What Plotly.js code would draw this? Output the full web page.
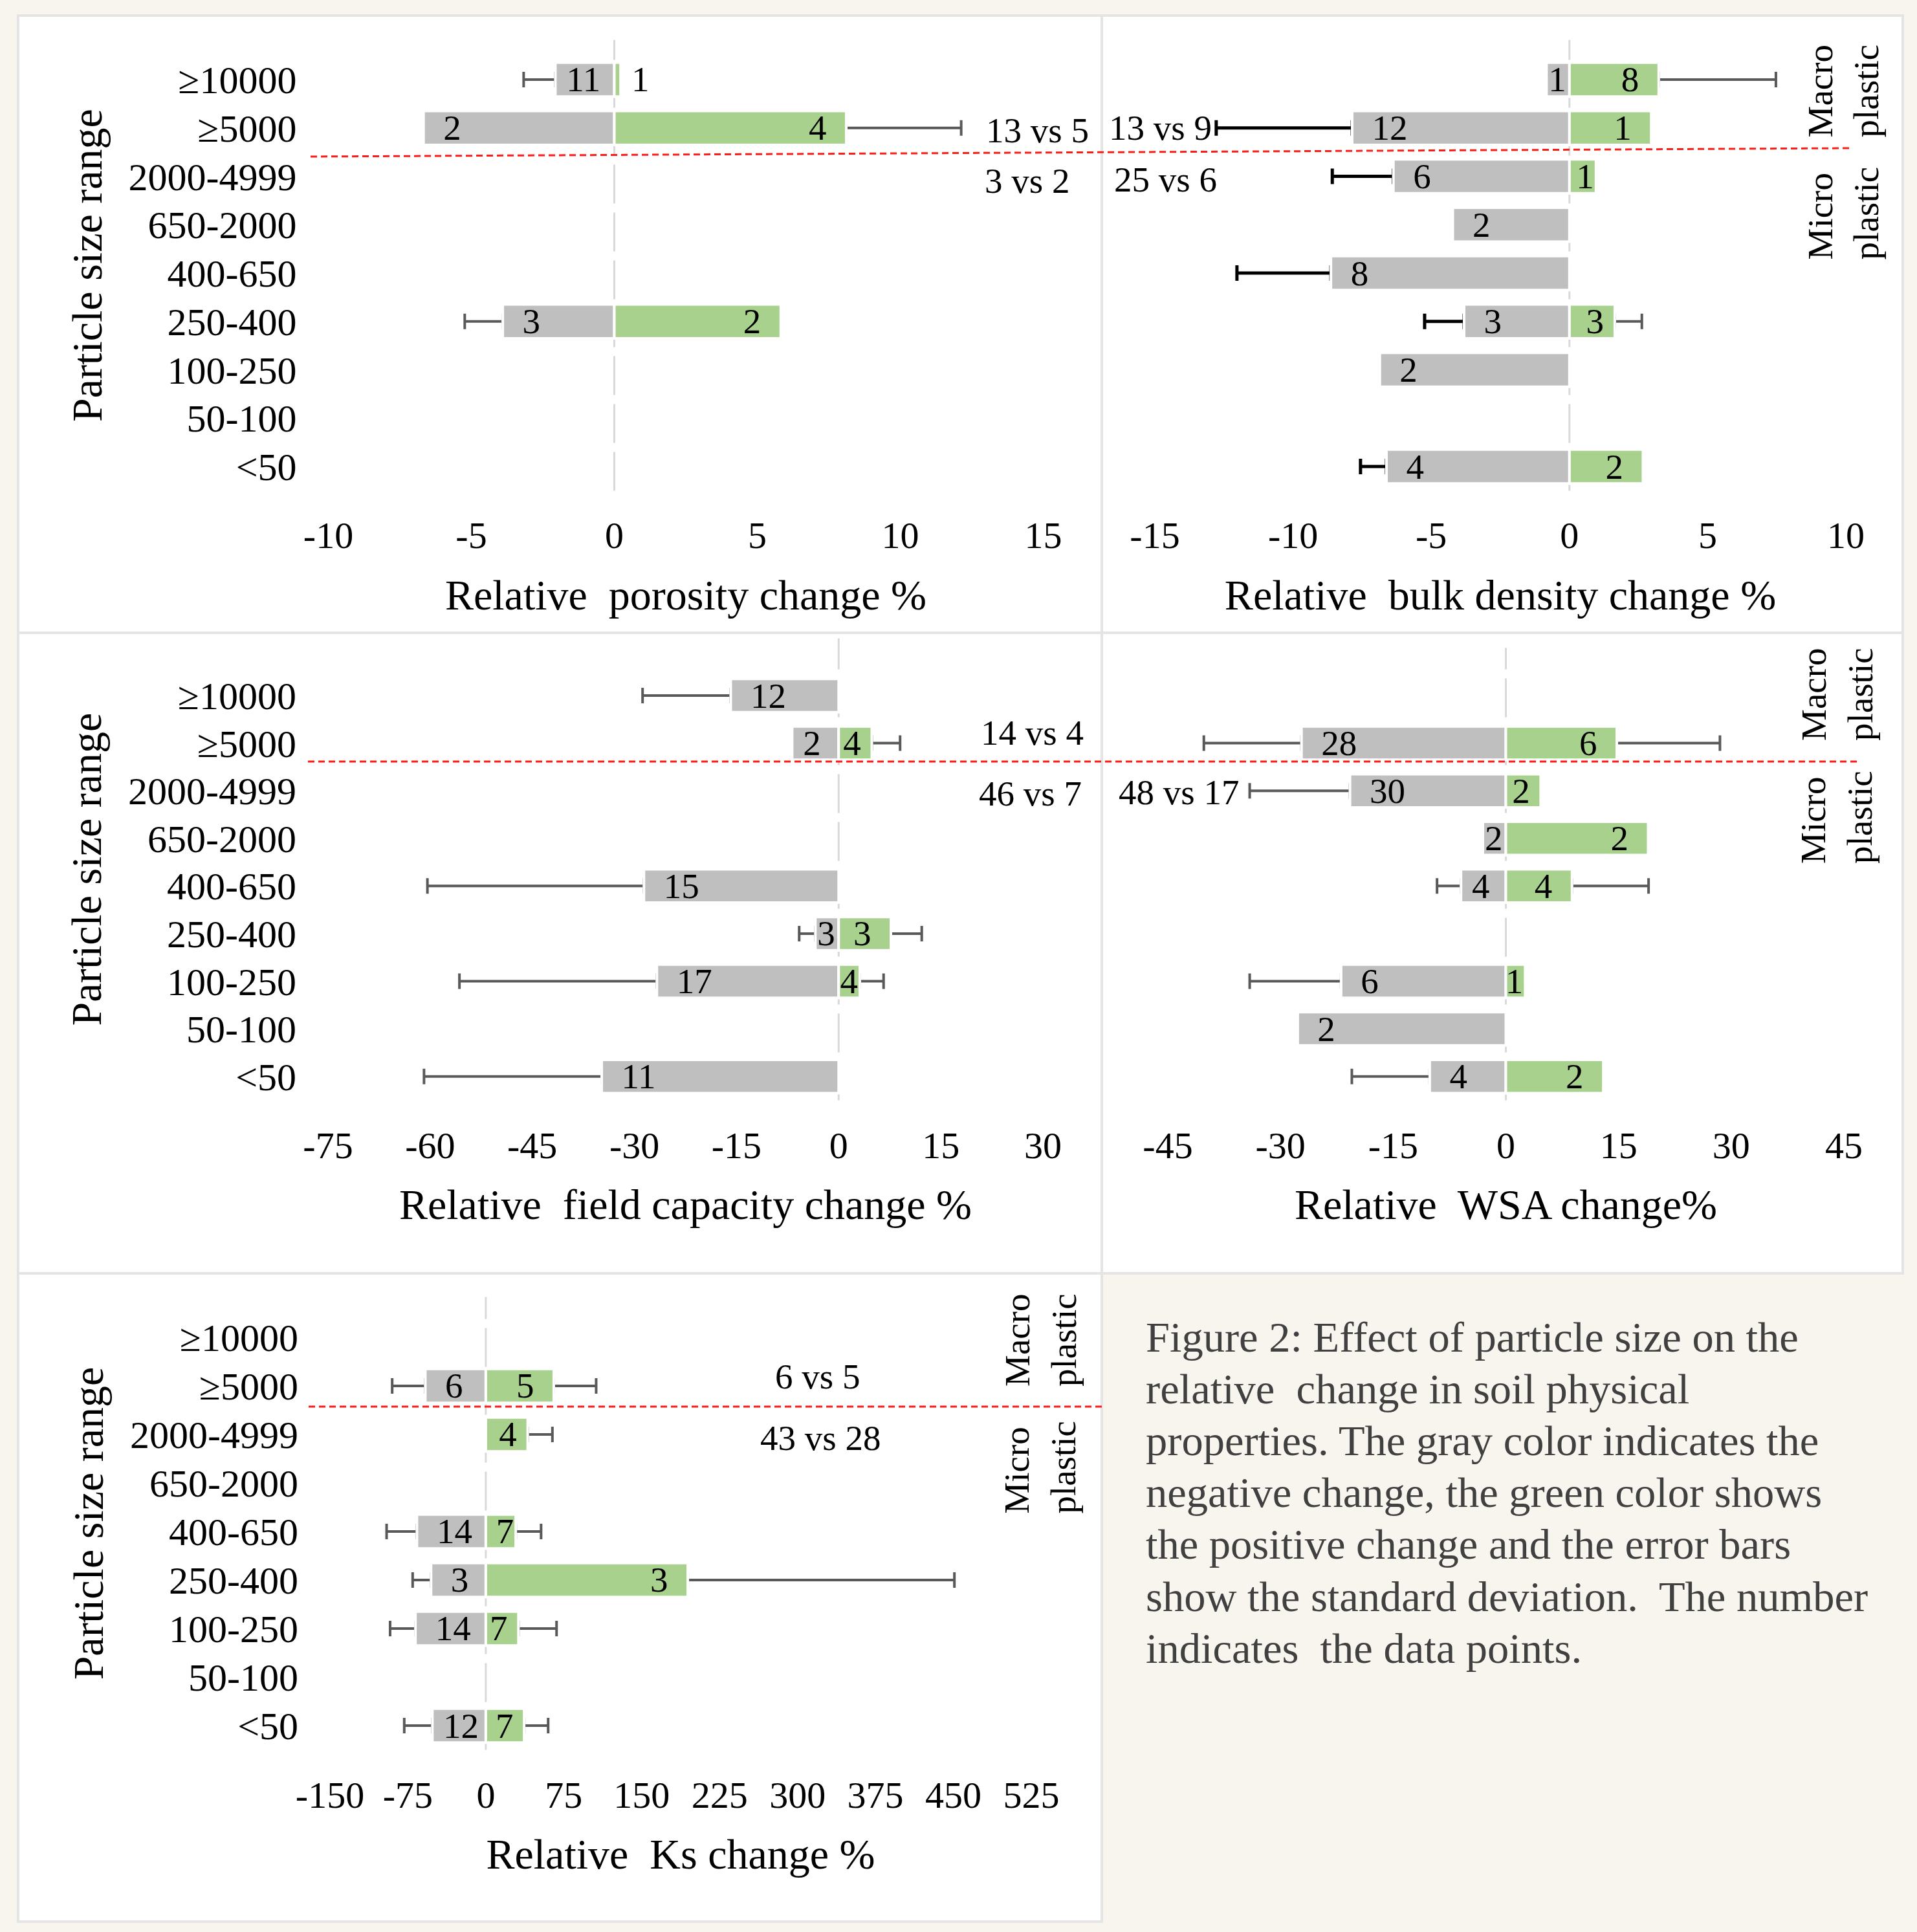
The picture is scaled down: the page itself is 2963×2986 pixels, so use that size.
<!DOCTYPE html>
<html>
<head>
<meta charset="utf-8">
<script src="https://cdn.plot.ly/plotly-3.0.1.min.js"></script>
<style>
html,body{margin:0;padding:0;background:#F8F5EE;}
#chart{width:2963px;height:2986px;}
</style>
</head>
<body>
<div id="chart"></div>
<script>
// ---------------- DATA ----------------
const sizeRanges = ['≥10000', '≥5000', '2000-4999', '650-2000', '400-650', '250-400', '100-250', '50-100', '<50'];

// Relative porosity change %
const porosityNeg   = [-2.06, -6.67, null, null, null, -3.90, null, null, null];
const porosityNegN  = [11, 2, null, null, null, 3, null, null, null];
const porosityNegSD = [1.11, null, null, null, null, 1.33, null, null, null];
const porosityPos   = [0.22, 8.11, null, null, null, 5.82, null, null, null];
const porosityPosN  = [1, 4, null, null, null, 2, null, null, null];
const porosityPosSD = [null, 4.02, null, null, null, null, null, null, null];
const porosityTicks = [-10, -5, 0, 5, 10, 15];

// Relative bulk density change %
const bulkNeg   = [-0.83, -7.86, -6.37, -4.22, -8.63, -3.81, -6.86, null, -6.62];
const bulkNegN  = [1, 12, 6, 2, 8, 3, 2, null, 4];
const bulkNegSD = [null, 4.92, 2.21, null, 3.40, 1.43, null, null, 0.94];
const bulkPos   = [3.23, 2.96, 0.96, null, null, 1.64, null, null, 2.66];
const bulkPosN  = [8, 1, 1, null, null, 3, null, null, 2];
const bulkPosSD = [4.24, null, null, null, null, 0.98, null, null, null];
const bulkTicks = [-15, -10, -5, 0, 5, 10];

// Relative field capacity change %
const fcNeg   = [-15.85, -6.83, null, null, -28.6, -3.42, -26.7, null, -34.8];
const fcNegN  = [12, 2, null, null, 15, 3, 17, null, 11];
const fcNegSD = [12.95, null, null, null, 31.8, 2.38, 29.0, null, 26.1];
const fcPos   = [null, 4.87, null, null, null, 7.67, 3.1, null, null];
const fcPosN  = [null, 4, null, null, null, 3, 4, null, null];
const fcPosSD = [null, 4.15, null, null, null, 4.53, 3.5, null, null];
const fcTicks = [-75, -60, -45, -30, -15, 0, 15, 30];

// Relative WSA change %
const wsaNeg   = [null, -27.2, -20.75, -3.06, -5.97, null, -21.93, -27.7, -10.13];
const wsaNegN  = [null, 28, 30, 2, 4, null, 6, 2, 4];
const wsaNegSD = [null, 13.0, 13.35, null, 3.19, null, 12.17, null, 10.37];
const wsaPos   = [null, 14.77, 4.64, 18.94, 8.81, null, 2.57, null, 12.97];
const wsaPosN  = [null, 6, 2, 2, 4, null, 1, null, 2];
const wsaPosSD = [null, 13.73, null, null, 10.19, null, null, null, null];
const wsaTicks = [-45, -30, -15, 0, 15, 30, 45];

// Relative Ks change %
const ksNeg   = [null, -58.2, null, null, -66.3, -52.7, -67.7, null, -51.4];
const ksNegN  = [null, 6, null, null, 14, 3, 14, null, 12];
const ksNegSD = [null, 31.9, null, null, 29.2, 17.7, 24.4, null, 27.1];
const ksPos   = [null, 65.4, 40.3, null, 28.8, 194.4, 31.4, null, 36.9];
const ksPosN  = [null, 5, 4, null, 7, 3, 7, null, 7];
const ksPosSD = [null, 40.8, 23.8, null, 24.4, 256.6, 36.7, null, 23.1];
const ksTicks = [-150, -75, 0, 75, 150, 225, 300, 375, 450, 525];

// comparison texts (macro row, micro row)
const porosityVs = ['13 vs 5', '3 vs 2'];
const bulkVs = ['13 vs 9', '25 vs 6'];
const fcVs = ['14 vs 4', '46 vs 7'];
const wsaVs = ['48 vs 17'];
const ksVs = ['6 vs 5', '43 vs 28'];

const axisTitles = ['Relative\u00a0 porosity change %', 'Relative\u00a0 bulk density change %',
  'Relative\u00a0 field capacity change %', 'Relative\u00a0 WSA change%', 'Relative\u00a0 Ks change %'];
const yTitle = 'Particle size range';

const captionLines = [
  'Figure 2: Effect of particle size on the',
  'relative\u00a0 change in soil physical',
  'properties. The gray color indicates the',
  'negative change, the green color shows',
  'the positive change and the error bars',
  'show the standard deviation.\u00a0 The number',
  'indicates\u00a0 the data points.'
];

// ---------------- STYLE / LAYOUT ----------------
const W = 2963, H = 2986;
const FONT = 'Liberation Serif, Times New Roman, serif';
const GRAY = '#BFBFBF', GREEN = '#A9D18E', ERR = '#595959';
const LABEL_SIZE = 55;
const pxX = v => v / W;
const pxY = v => 1 - v / H;

const panels = [
  {k: 1, box: [507.5, 1612.5, 61.7, 758.4], yTop: -0.82, ticks: porosityTicks, title: axisTitles[0], showY: true,
   neg: porosityNeg, negN: porosityNegN, negSD: porosityNegSD, pos: porosityPos, posN: porosityPosN, posSD: porosityPosSD,
   negErr: ERR, negErrW: 4},
  {k: 2, box: [1785, 2853, 61.7, 758.4], yTop: -0.82, ticks: bulkTicks, title: axisTitles[1], showY: false,
   neg: bulkNeg, negN: bulkNegN, negSD: bulkNegSD, pos: bulkPos, posN: bulkPosN, posSD: bulkPosSD,
   negErr: '#000000', negErrW: 5},
  {k: 3, box: [507, 1612, 986.7, 1700.5], yTop: -1.2, ticks: fcTicks, title: axisTitles[2], showY: true,
   neg: fcNeg, negN: fcNegN, negSD: fcNegSD, pos: fcPos, posN: fcPosN, posSD: fcPosSD,
   negErr: ERR, negErrW: 4},
  {k: 4, box: [1805, 2850, 1001.4, 1700.5], yTop: -1.0, ticks: wsaTicks, title: axisTitles[3], showY: false,
   neg: wsaNeg, negN: wsaNegN, negSD: wsaNegSD, pos: wsaPos, posN: wsaPosN, posSD: wsaPosSD,
   negErr: ERR, negErrW: 4},
  {k: 5, box: [510, 1594, 2004.5, 2704.5], yTop: -0.833, ticks: ksTicks, title: axisTitles[4], showY: true,
   neg: ksNeg, negN: ksNegN, negSD: ksNegSD, pos: ksPos, posN: ksPosN, posSD: ksPosSD,
   negErr: ERR, negErrW: 4}
];

function labelInfo(vals, ns, unit, positive) {
  const text = [], pos = [];
  const nb = 0.25 * LABEL_SIZE;
  vals.forEach((v, i) => {
    if (v == null || ns[i] == null) { text.push(''); pos.push('inside'); return; }
    const s = String(ns[i]);
    const barPx = Math.abs(v) * unit;
    const tw = s.length * 0.5 * LABEL_SIZE;
    if (barPx < tw) { text.push('\u00a0' + s); pos.push('outside'); return; }
    const g = Math.max(0, Math.min(2 * nb, (barPx - tw) / 2 - 3));
    const pad = '\u00a0'.repeat(Math.round(g / nb));
    text.push(positive ? s + pad : pad + s);
    pos.push('inside');
  });
  return {text, pos};
}

const traces = [];
const layout = {
  width: W, height: H,
  margin: {l: 0, r: 0, t: 0, b: 0},
  paper_bgcolor: '#F8F5EE',
  plot_bgcolor: 'rgba(0,0,0,0)',
  font: {family: FONT, color: '#000000', size: 58},
  barmode: 'overlay',
  showlegend: false,
  shapes: [],
  annotations: []
};

// panel frames
[[28, 1703, 24, 978], [1703, 2941, 24, 978], [28, 1703, 978, 1968], [1703, 2941, 978, 1968], [28, 1703, 1968, 2970]]
  .forEach(r => layout.shapes.push({type: 'rect', xref: 'paper', yref: 'paper', layer: 'below',
    x0: pxX(r[0]), x1: pxX(r[1]), y0: pxY(r[3]), y1: pxY(r[2]),
    fillcolor: '#FFFFFF', line: {color: '#E4E4E4', width: 4}}));

panels.forEach(p => {
  const xa = p.k === 1 ? 'x' : 'x' + p.k;
  const ya = p.k === 1 ? 'y' : 'y' + p.k;
  const xName = p.k === 1 ? 'xaxis' : 'xaxis' + p.k;
  const yName = p.k === 1 ? 'yaxis' : 'yaxis' + p.k;
  const t0 = p.ticks[0], tN = p.ticks[p.ticks.length - 1];
  const b = p.box;
  const unit = (b[1] - b[0]) / (tN - t0);

  layout[xName] = {
    domain: [pxX(b[0]), pxX(b[1])], range: [t0, tN], anchor: ya,
    tickmode: 'array', tickvals: p.ticks, ticktext: p.ticks.map(String),
    tickfont: {size: 58, family: FONT, color: '#000'}, ticklabelstandoff: 30,
    showgrid: false, zeroline: false, showline: false, ticks: '', fixedrange: true,
    title: {text: p.title, font: {size: 66, family: FONT, color: '#000'}, standoff: 36}
  };
  layout[yName] = {
    domain: [pxY(b[3]), pxY(b[2])], range: [8.5, p.yTop], anchor: xa,
    type: 'category', categoryorder: 'array', categoryarray: sizeRanges,
    showticklabels: p.showY, tickfont: {size: 60, family: FONT, color: '#000'}, ticklabelstandoff: 48,
    showgrid: false, zeroline: false, showline: false, ticks: '', fixedrange: true,
    title: p.showY ? {text: yTitle, font: {size: 66, family: FONT, color: '#000'}, standoff: 19} : {text: ''}
  };

  // zero line
  layout.shapes.push({type: 'line', xref: xa, yref: ya + ' domain', x0: 0, x1: 0, y0: 0, y1: 1, layer: 'below',
    line: {color: '#D9D9D9', width: 3, dash: '60px,14px'}});

  // missing SD -> NaN so that no error bar is drawn at all
  const negErrMinus = p.negSD.map(v => v == null ? NaN : v);
  const negErrPlus = p.negSD.map(v => v == null ? NaN : 0);
  const posErrPlus = p.posSD.map(v => v == null ? NaN : v);
  const posErrMinus = p.posSD.map(v => v == null ? NaN : 0);

  // error bar carriers (drawn first, real bars cover the inner caps)
  traces.push({type: 'bar', orientation: 'h', xaxis: xa, yaxis: ya, y: sizeRanges, x: p.neg, width: 0.7,
    marker: {color: 'rgba(0,0,0,0)'}, hoverinfo: 'skip',
    error_x: {type: 'data', symmetric: false, array: negErrPlus, arrayminus: negErrMinus,
      color: p.negErr, thickness: p.negErrW, width: 12}});
  traces.push({type: 'bar', orientation: 'h', xaxis: xa, yaxis: ya, y: sizeRanges, x: p.pos, width: 0.7,
    marker: {color: 'rgba(0,0,0,0)'}, hoverinfo: 'skip',
    error_x: {type: 'data', symmetric: false, array: posErrPlus, arrayminus: posErrMinus,
      color: ERR, thickness: 4, width: 12}});

  const nl = labelInfo(p.neg, p.negN, unit, false);
  const pl = labelInfo(p.pos, p.posN, unit, true);
  traces.push({type: 'bar', orientation: 'h', xaxis: xa, yaxis: ya, y: sizeRanges, x: p.neg, width: 0.7,
    marker: {color: GRAY, line: {color: '#FFFFFF', width: 4}},
    text: nl.text, textposition: nl.pos, insidetextanchor: 'end', textangle: 0, constraintext: 'none',
    textfont: {size: LABEL_SIZE, family: FONT, color: '#000'}, cliponaxis: false, hoverinfo: 'skip'});
  traces.push({type: 'bar', orientation: 'h', xaxis: xa, yaxis: ya, y: sizeRanges, x: p.pos, width: 0.7,
    marker: {color: GREEN, line: {color: '#FFFFFF', width: 4}},
    text: pl.text, textposition: pl.pos, insidetextanchor: 'end', textangle: 0, constraintext: 'none',
    textfont: {size: LABEL_SIZE, family: FONT, color: '#000'}, cliponaxis: false, hoverinfo: 'skip'});
});

// red dashed macro / micro separators
[[480, 242, 2860, 229], [476, 1177, 2876, 1177], [477, 2174, 1703, 2174]].forEach(l =>
  layout.shapes.push({type: 'line', xref: 'paper', yref: 'paper', layer: 'above',
    x0: pxX(l[0]), y0: pxY(l[1]), x1: pxX(l[2]), y1: pxY(l[3]),
    line: {color: '#FF1A1A', width: 3, dash: '10px,6px'}}));

function ann(text, x, y, opts) {
  layout.annotations.push(Object.assign({text, x: pxX(x), y: pxY(y), xref: 'paper', yref: 'paper',
    showarrow: false, xanchor: 'left', yanchor: 'middle',
    font: {size: LABEL_SIZE, family: FONT, color: '#000'}}, opts || {}));
}
// comparison texts
ann(porosityVs[0], 1522, 201); ann(porosityVs[1], 1520, 280);
ann(bulkVs[0], 1712, 198); ann(bulkVs[1], 1720, 278);
ann(fcVs[0], 1514, 1132); ann(fcVs[1], 1511, 1226);
ann(wsaVs[0], 1727, 1224);
ann(ksVs[0], 1263, 2127, {xanchor: 'center'}); ann(ksVs[1], 1268, 2222, {xanchor: 'center'});

// macro / micro plastic labels
const rot = {textangle: -90, align: 'left', xanchor: 'center', yanchor: 'middle'};
ann('Macro<br>plastic', 2849, 140.5, rot); ann('Micro<br>plastic', 2849, 329.5, rot);
ann('Macro<br>plastic', 2839, 1073, rot); ann('Micro<br>plastic', 2839, 1263, rot);
ann('Macro<br>plastic', 1608, 2071, rot); ann('Micro<br>plastic', 1608, 2267.6, rot);

// caption
captionLines.forEach((t, i) => ann(t, 1769, 2066 + 80.2 * i,
  {font: {size: 66.5, family: FONT, color: '#404040'}}));

Plotly.newPlot('chart', traces, layout, {displayModeBar: false, staticPlot: true});
</script>
</body>
</html>
